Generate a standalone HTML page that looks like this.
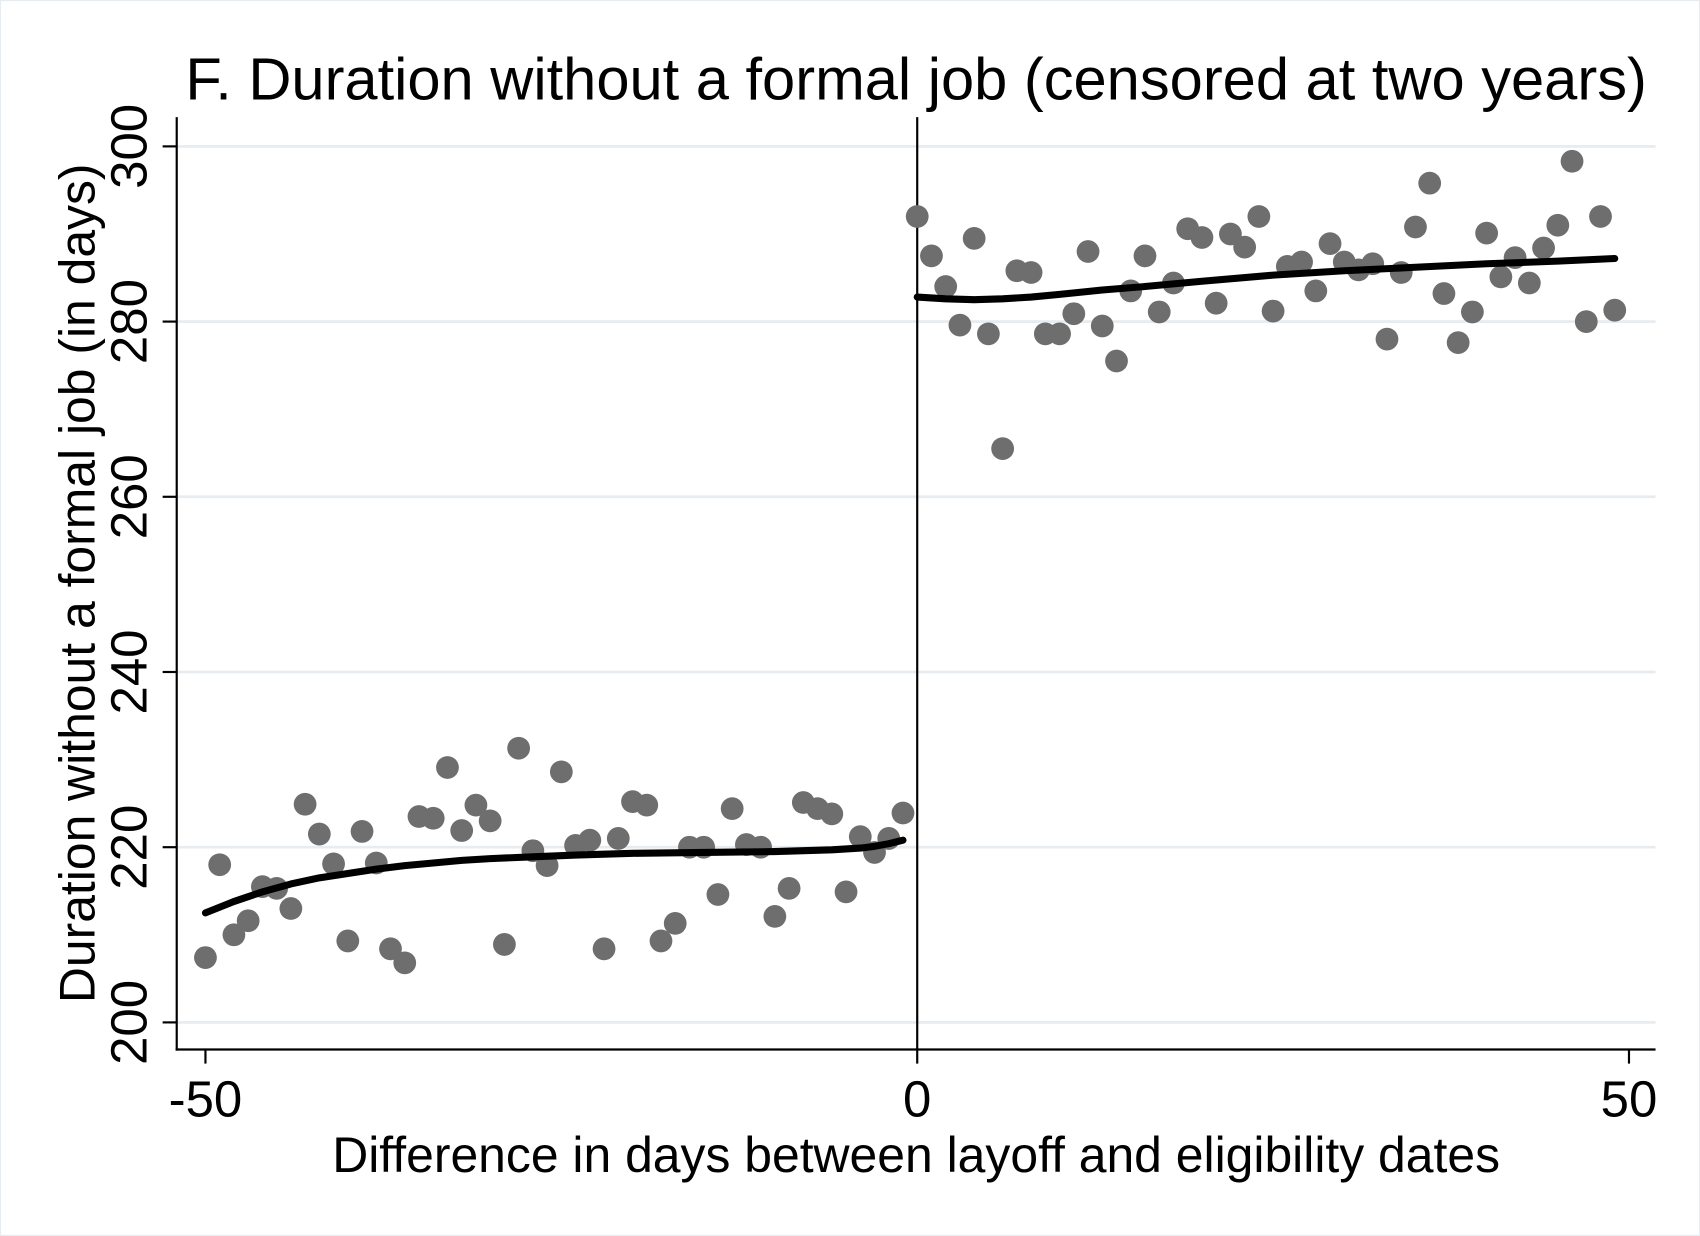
<!DOCTYPE html>
<html><head><meta charset="utf-8"><style>
html,body{margin:0;padding:0;background:#fff;}
svg{display:block;font-family:"Liberation Sans",sans-serif;}
</style></head><body>
<svg id="chart" width="1700" height="1236" viewBox="0 0 1568 1140" xmlns="http://www.w3.org/2000/svg">
<rect x="0" y="0" width="1568" height="1140" fill="#fff" stroke="#e6ecef" stroke-width="2"/>
<text x="845" y="92" font-size="55" text-anchor="middle" fill="#000">F. Duration without a formal job (censored at two years)</text>
<g id="grid"></g>
<g id="axes"></g>
<g id="points"></g>
<g id="fits"></g>
<text x="845" y="1081" font-size="46" text-anchor="middle" fill="#000">Difference in days between layoff and eligibility dates</text>
<text transform="translate(87,538) rotate(-90)" font-size="46" text-anchor="middle" fill="#000">Duration without a formal job (in days)</text>
</svg>
<script>
const leftX = [-50,-49,-48,-47,-46,-45,-44,-43,-42,-41,-40,-39,-38,-37,-36,-35,-34,-33,-32,-31,-30,-29,-28,-27,-26,-25,-24,-23,-22,-21,-20,-19,-18,-17,-16,-15,-14,-13,-12,-11,-10,-9,-8,-7,-6,-5,-4,-3,-2,-1];
const leftY = [207.4,218.0,210.0,211.6,215.5,215.3,213.0,224.9,221.5,218.1,209.3,221.8,218.2,208.4,206.8,223.5,223.3,229.1,221.9,224.8,223.0,208.9,231.3,219.6,217.9,228.6,220.2,220.8,208.4,221.0,225.2,224.8,209.3,211.3,220.0,220.0,214.6,224.4,220.3,220.0,212.1,215.3,225.1,224.4,223.8,214.9,221.2,219.4,221.0,223.9];
const rightX = [0,1,2,3,4,5,6,7,8,9,10,11,12,13,14,15,16,17,18,19,20,21,22,23,24,25,26,27,28,29,30,31,32,33,34,35,36,37,38,39,40,41,42,43,44,45,46,47,48,49];
const rightY = [292.0,287.5,284.0,279.6,289.5,278.6,265.5,285.8,285.6,278.6,278.6,280.9,288.0,279.5,275.5,283.5,287.5,281.1,284.4,290.6,289.6,282.1,290.0,288.5,292.0,281.2,286.3,286.8,283.5,288.9,286.8,285.9,286.6,278.0,285.6,290.8,295.8,283.2,277.6,281.1,290.1,285.1,287.3,284.4,288.4,291.0,298.3,280.0,292.0,281.3];
const fitLeftX = [-50,-48,-46,-44,-42,-40,-38,-36,-34,-32,-30,-27,-24,-20,-15,-10,-6,-4,-3,-2,-1];
const fitLeftY = [212.5,213.8,214.9,215.8,216.5,217.0,217.5,217.9,218.2,218.5,218.7,218.9,219.1,219.3,219.4,219.5,219.7,219.9,220.1,220.4,220.8];
const fitRightX = [0,2,4,6,8,10,13,16,20,25,30,35,40,45,49];
const fitRightY = [282.8,282.6,282.5,282.6,282.8,283.1,283.6,284.0,284.6,285.3,285.8,286.2,286.6,286.9,287.2];
const yTicks = [200,220,240,260,280,300];
const xTicks = [-50,0,50];

const NS="http://www.w3.org/2000/svg";
const sx = v => 846 + v*13.13;
const sy = v => 943 - (v-200)*8.08;
function mk(tag, attrs, parent){const e=document.createElementNS(NS,tag);for(const k in attrs)e.setAttribute(k,attrs[k]);parent.appendChild(e);return e;}
const grid=document.getElementById('grid'), axes=document.getElementById('axes');
const pts=document.getElementById('points'), fits=document.getElementById('fits');

yTicks.forEach(t=>{
  const g=mk('line',{x1:163,x2:1527,y1:sy(t),y2:sy(t),stroke:'#e6ecef','stroke-width':2.5},grid);
  
  
  const tk=mk('line',{x1:150,x2:163,y1:sy(t),y2:sy(t),stroke:'#000','stroke-width':2},axes);
  
  
  const lb=mk('text',{transform:`translate(135,${sy(t)}) rotate(-90)`,'font-size':47,'text-anchor':'middle',fill:'#000'},axes);
  lb.textContent=t;
  
  
});
xTicks.forEach(t=>{
  const tk=mk('line',{x1:sx(t),x2:sx(t),y1:968,y2:981,stroke:'#000','stroke-width':2},axes);
  
  
  const lb=mk('text',{x:sx(t),y:1030,'font-size':47,'text-anchor':'middle',fill:'#000'},axes);
  lb.textContent=t;
  
  
});
const ya=mk('line',{x1:163,x2:163,y1:108,y2:969,stroke:'#000','stroke-width':2},axes);


const xa=mk('line',{x1:162,x2:1527,y1:968,y2:968,stroke:'#000','stroke-width':2},axes);


const cut=mk('line',{x1:sx(0),x2:sx(0),y1:108,y2:968,stroke:'#000','stroke-width':2},axes);



function drawPts(xs,ys,name){xs.forEach((x,i)=>{
  const c=mk('circle',{cx:sx(x),cy:sy(ys[i]),r:10.5,fill:'#6e6e6e'},pts);
  
  
});}
drawPts(leftX,leftY,'point-left');
drawPts(rightX,rightY,'point-right');
function drawFit(xs,ys,name){
  const p=mk('polyline',{points:xs.map((x,i)=>sx(x)+','+sy(ys[i])).join(' '),fill:'none',stroke:'#000','stroke-width':6.5,'stroke-linejoin':'round','stroke-linecap':'round'},fits);
  
  
}
drawFit(fitLeftX,fitLeftY,'fit-line-left');
drawFit(fitRightX,fitRightY,'fit-line-right');
</script>
</body></html>
